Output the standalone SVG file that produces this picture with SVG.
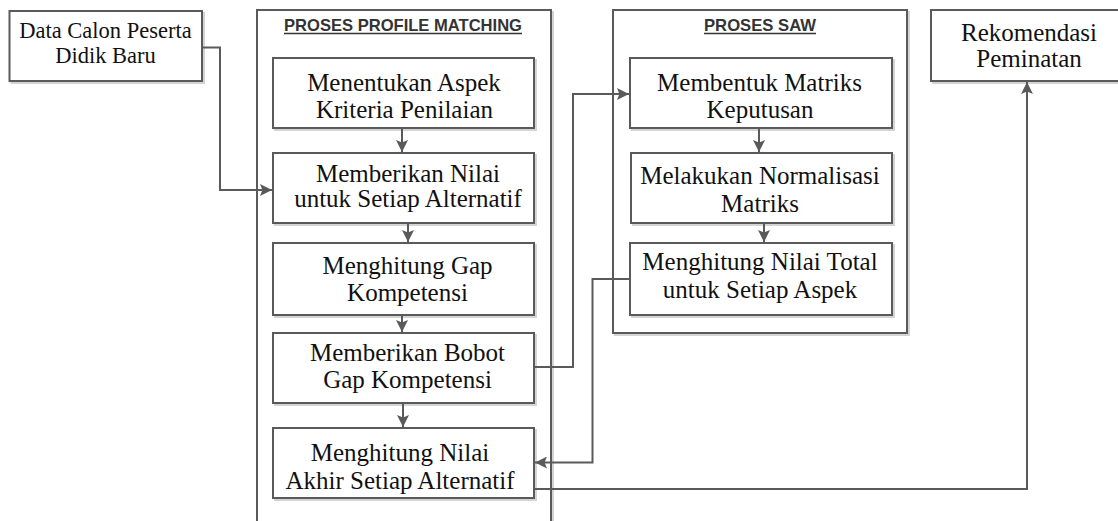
<svg xmlns="http://www.w3.org/2000/svg" width="1118" height="521" viewBox="0 0 1118 521">
<style>
.box{fill:#fff;stroke:#5a5a5a;stroke-width:2}
.shadow{fill:none;stroke:#d4d4d4;stroke-width:2}
.t{font-family:"Liberation Serif","Times New Roman",serif;font-size:25px;fill:#111;text-anchor:middle}
.ts{font-size:22.5px}
.title{font-family:"Liberation Sans",Arial,sans-serif;font-weight:bold;font-size:17px;fill:#333;text-anchor:middle}
.ul{stroke:#333;stroke-width:1.5}
.c{fill:none;stroke:#5a5a5a;stroke-width:2}
</style>
<defs>
<marker id="ah" markerUnits="userSpaceOnUse" markerWidth="12" markerHeight="12" refX="10" refY="5" orient="auto" viewBox="0 0 10 10">
<path d="M0,0 L10,5 L0,10 L2,5 z" fill="#5a5a5a"/>
</marker>
</defs>
<rect width="1118" height="521" fill="#fff"/>

<g id="container-profile">
<rect class="shadow" x="259" y="12" width="294" height="520"/>
<rect class="box" x="257" y="10" width="294" height="520"/>
<text class="title" x="403" y="30.5" textLength="238" lengthAdjust="spacingAndGlyphs">PROSES PROFILE MATCHING</text>
<line class="ul" x1="284" y1="33.5" x2="522" y2="33.5"/>
</g>

<g id="container-saw">
<rect class="shadow" x="615" y="12" width="294" height="323"/>
<rect class="box" x="613" y="10" width="294" height="323"/>
<text class="title" x="760" y="30.5" textLength="112" lengthAdjust="spacingAndGlyphs">PROSES SAW</text>
<line class="ul" x1="704" y1="33.5" x2="816" y2="33.5"/>
</g>

<g id="node-data">
<rect class="shadow" x="11.5" y="13" width="192.5" height="70"/>
<rect class="box" x="9.5" y="11" width="192.5" height="70"/>
<text class="t ts" x="105.5" y="38">Data Calon Peserta</text>
<text class="t ts" x="105.5" y="62.5">Didik Baru</text>
</g>

<g id="node-rekomendasi">
<rect class="shadow" x="933" y="12" width="200" height="71"/>
<rect class="box" x="931" y="10" width="200" height="71"/>
<text class="t" x="1029" y="40.5">Rekomendasi</text>
<text class="t" x="1029" y="66.5">Peminatan</text>
</g>

<g id="node-menentukan">
<rect class="shadow" x="275" y="60" width="261" height="70"/>
<rect class="box" x="273" y="58" width="261" height="70"/>
<text class="t" x="404" y="90.5">Menentukan Aspek</text>
<text class="t" x="404.5" y="117.5">Kriteria Penilaian</text>
</g>

<g id="node-memberikan-nilai">
<rect class="shadow" x="275" y="155" width="261" height="70"/>
<rect class="box" x="273" y="153" width="261" height="70"/>
<text class="t" x="408" y="181.5">Memberikan Nilai</text>
<text class="t" x="408" y="207">untuk Setiap Alternatif</text>
</g>

<g id="node-gap">
<rect class="shadow" x="275" y="245" width="261" height="72"/>
<rect class="box" x="273" y="243" width="261" height="72"/>
<text class="t" x="407.5" y="274">Menghitung Gap</text>
<text class="t" x="407.5" y="300.5">Kompetensi</text>
</g>

<g id="node-bobot">
<rect class="shadow" x="275" y="335" width="261" height="70"/>
<rect class="box" x="273" y="333" width="261" height="70"/>
<text class="t" x="407.5" y="360.5">Memberikan Bobot</text>
<text class="t" x="407.5" y="387.5">Gap Kompetensi</text>
</g>

<g id="node-nilai-akhir">
<rect class="shadow" x="275" y="430" width="261" height="70"/>
<rect class="box" x="273" y="428" width="261" height="70"/>
<text class="t" x="400" y="461">Menghitung Nilai</text>
<text class="t" x="400" y="488.5">Akhir Setiap Alternatif</text>
</g>

<g id="node-matriks-keputusan">
<rect class="shadow" x="632" y="60" width="262" height="70"/>
<rect class="box" x="630" y="58" width="262" height="70"/>
<text class="t" x="759.5" y="90.5">Membentuk Matriks</text>
<text class="t" x="760" y="118">Keputusan</text>
</g>

<g id="node-normalisasi">
<rect class="shadow" x="633" y="155" width="261" height="70"/>
<rect class="box" x="631" y="153" width="261" height="70"/>
<text class="t" x="760" y="184">Melakukan Normalisasi</text>
<text class="t" x="760" y="211.5">Matriks</text>
</g>

<g id="node-nilai-total">
<rect class="shadow" x="632" y="245" width="262" height="72"/>
<rect class="box" x="630" y="243" width="262" height="72"/>
<text class="t" x="760" y="270">Menghitung Nilai Total</text>
<text class="t" x="760" y="297.5">untuk Setiap Aspek</text>
</g>

<g id="connectors">
<path class="c" d="M202,47.5 H220 V190 H272" marker-end="url(#ah)"/>
<path class="c" d="M402,128 V152" marker-end="url(#ah)"/>
<path class="c" d="M408,223 V242" marker-end="url(#ah)"/>
<path class="c" d="M402,315 V332" marker-end="url(#ah)"/>
<path class="c" d="M403,403 V427" marker-end="url(#ah)"/>
<path class="c" d="M534,367 H573 V94 H629" marker-end="url(#ah)"/>
<path class="c" d="M759,128 V152" marker-end="url(#ah)"/>
<path class="c" d="M764,223 V242" marker-end="url(#ah)"/>
<path class="c" d="M630,279 H592.5 V462.5 H535" marker-end="url(#ah)"/>
<path class="c" d="M534,489 H1027 V82" marker-end="url(#ah)"/>
</g>
</svg>
